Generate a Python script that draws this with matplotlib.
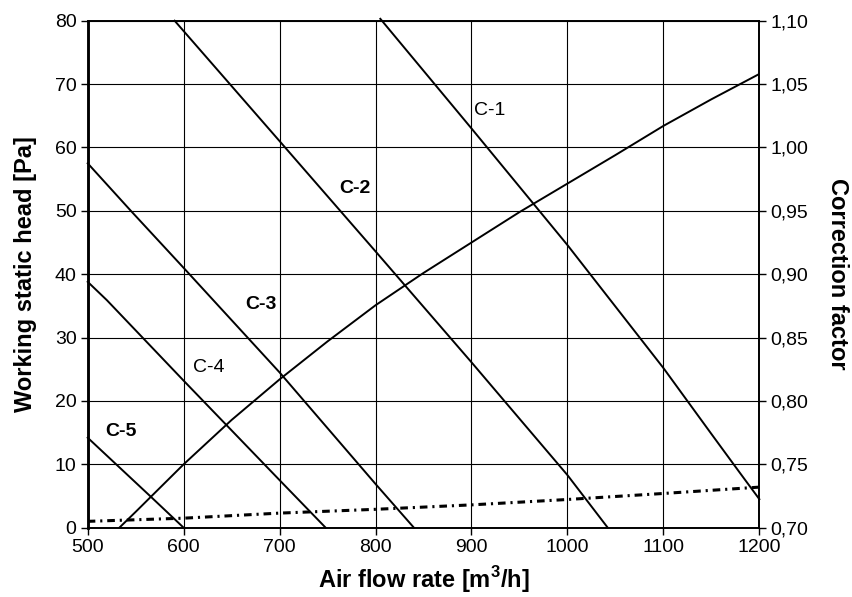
import matplotlib
matplotlib.use("Agg")
import matplotlib.pyplot as plt

plt.rcParams['font.family'] = ['Liberation Sans', 'DejaVu Sans']
plt.rcParams['mathtext.fontset'] = 'custom'
plt.rcParams['mathtext.rm'] = 'Liberation Sans'
plt.rcParams['mathtext.bf'] = 'Liberation Sans:bold'

# Fan curves (working static head, Pa)
c1_x = [805, 900, 1000, 1100, 1150, 1180, 1200]
c1_y = [80.3, 63.0, 44.6, 25.2, 14.8, 8.6, 4.5]
c2_x = [590.6, 700, 800, 900, 1000, 1042]
c2_y = [80.0, 61.0, 43.6, 26.1, 8.3, 0.0]
c3_x = [500, 545, 600, 700, 800, 840]
c3_y = [57.5, 50.0, 41.0, 24.5, 6.9, 0.0]
c4_x = [500, 520, 600, 700, 748]
c4_y = [38.8, 35.9, 23.2, 7.5, 0.0]
c5_x = [500, 565, 600]
c5_y = [14.2, 5.0, 0.0]

# Correction factor curve (right axis)
cf_x = [533, 550, 600, 650, 700, 750, 800, 850, 900, 950, 1000, 1050, 1100, 1150, 1200]
cf_y = [0.700, 0.7125, 0.750, 0.785, 0.817, 0.847, 0.8755, 0.901, 0.925, 0.949,
        0.9715, 0.994, 1.017, 1.038, 1.058]

# Dash-dot curve (left axis)
dd_x = [500, 600, 700, 800, 900, 1000, 1100, 1150, 1200]
dd_y = [1.0, 1.5, 2.3, 2.9, 3.6, 4.45, 5.4, 5.9, 6.4]

labels = ["C-1", "C-2", "C-3", "C-4", "C-5"]
label_x = [918.6, 778.5, 681, 626, 534.6]
label_y = [65.8, 53.5, 35.2, 25.3, 15.2]
label_bold = [False, True, True, False, True]

x_ticks = [500, 600, 700, 800, 900, 1000, 1100, 1200]
y_ticks = [0, 10, 20, 30, 40, 50, 60, 70, 80]
r_ticks = [0.70, 0.75, 0.80, 0.85, 0.90, 0.95, 1.00, 1.05, 1.10]
r_tick_labels = ["0,70", "0,75", "0,80", "0,85", "0,90", "0,95", "1,00", "1,05", "1,10"]

fig = plt.figure(figsize=(8.53, 5.97), dpi=100)
ax = fig.add_axes([0.1028, 0.1161, 0.7874, 0.8492])
ax.set_xlim(500, 1200)
ax.set_ylim(0, 80)
ax.set_xticks(x_ticks)
ax.set_yticks(y_ticks)
ax.grid(True, color='black', linewidth=0.8)
ax.set_axisbelow(True)

for xs, ys in [(c1_x, c1_y), (c2_x, c2_y), (c3_x, c3_y), (c4_x, c4_y), (c5_x, c5_y)]:
    ax.plot(xs, ys, color='black', linewidth=1.4, clip_on=False)

ax.plot(dd_x, dd_y, color='black', linewidth=2.2, linestyle=(0, (2.5, 1.6, 0.7, 1.6)))

for t, lx, ly, b in zip(labels, label_x, label_y, label_bold):
    ax.text(lx, ly, t, fontsize=14, fontweight='bold' if b else 'normal',
            ha='center', va='center')

ax.tick_params(axis='both', direction='out', length=5, width=1, labelsize=14, pad=3)
for s in ax.spines.values():
    s.set_linewidth(1.2)
ax.spines['left'].set_linewidth(1.8)

ax.set_xlabel(r"Air flow rate [m$^{\mathbf{3}}$/h]", fontsize=17, fontweight='bold', labelpad=6)
ax.set_ylabel("Working static head [Pa]", fontsize=17, fontweight='bold', labelpad=13)

ax2 = ax.twinx()
ax2.set_ylim(0.70, 1.10)
ax2.set_yticks(r_ticks)
ax2.set_yticklabels(r_tick_labels)
ax2.plot(cf_x, cf_y, color='black', linewidth=1.4)
ax2.tick_params(axis='y', direction='out', length=5, width=1, labelsize=14, pad=3)
for s in ax2.spines.values():
    s.set_linewidth(1.2)
ax2.spines['left'].set_linewidth(1.8)
ax2.set_ylabel("Correction factor", fontsize=17, fontweight='bold', rotation=270,
               labelpad=29)

fig.savefig("out.png", dpi=100)
